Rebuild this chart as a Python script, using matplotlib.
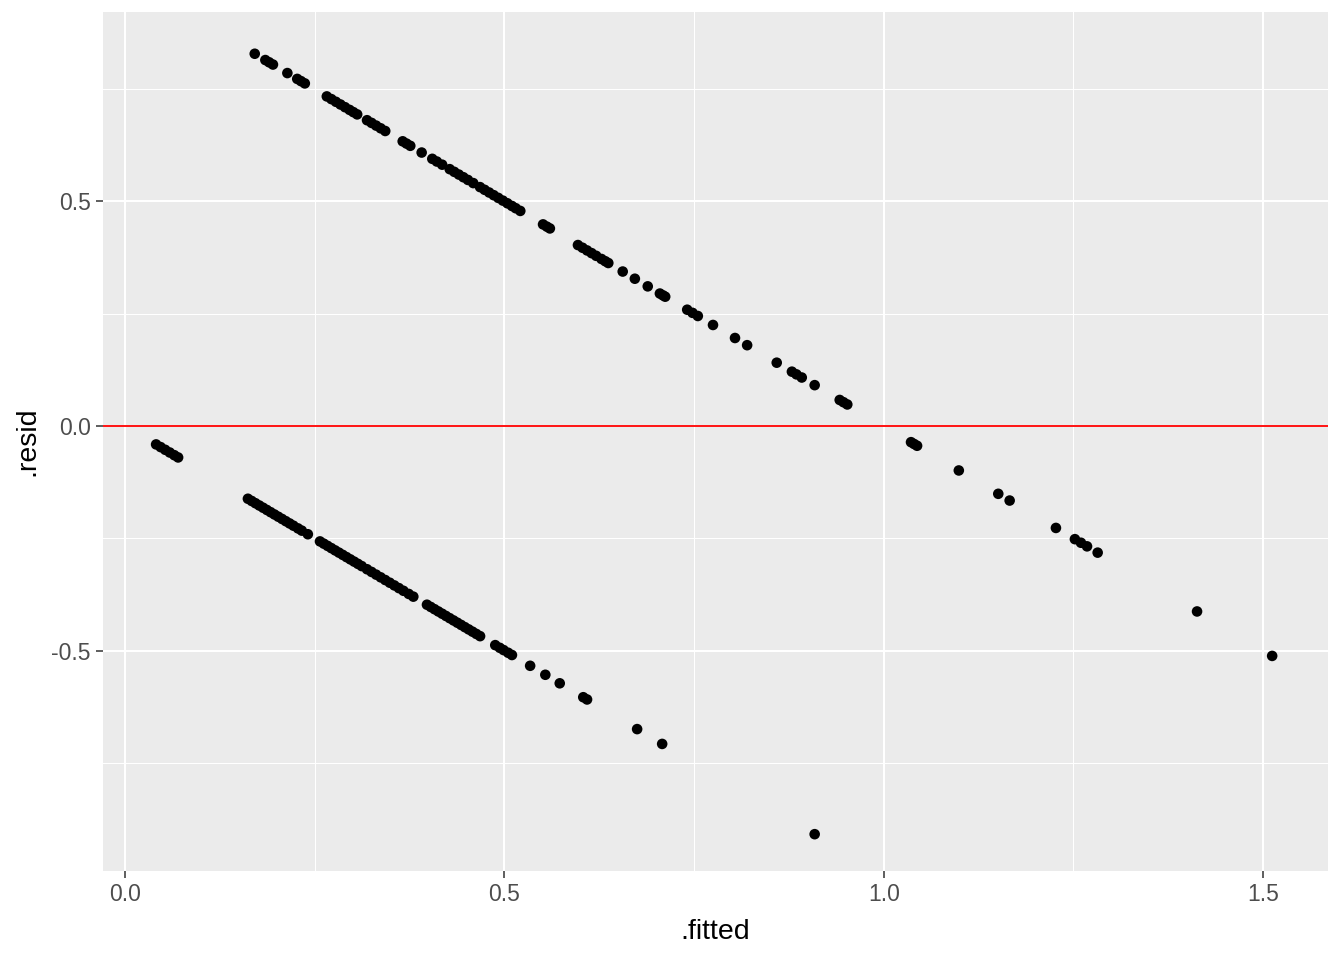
import matplotlib
matplotlib.use("Agg")
import matplotlib.pyplot as plt
from matplotlib.ticker import FixedLocator

plt.rcParams['font.family'] = ['Liberation Sans', 'DejaVu Sans']

# observations with outcome 1
fitted_one = [0.171, 0.185, 0.190, 0.195, 0.214, 0.227, 0.232, 0.237,
              0.266, 0.272, 0.278, 0.284, 0.290, 0.296, 0.301, 0.306,
              0.319, 0.325, 0.331, 0.337, 0.343,
              0.366, 0.371, 0.376, 0.391,
              0.405, 0.411, 0.418,
              0.428, 0.434, 0.440, 0.446, 0.452, 0.459,
              0.468, 0.474, 0.480, 0.486, 0.492, 0.498, 0.504, 0.510, 0.515, 0.521,
              0.551, 0.556, 0.560,
              0.597, 0.603, 0.609, 0.615, 0.621, 0.628, 0.633, 0.637,
              0.656, 0.672, 0.689, 0.705, 0.709, 0.712,
              0.741, 0.748, 0.755, 0.775, 0.804, 0.820, 0.859, 0.879, 0.885, 0.892,
              0.909, 0.942, 0.947, 0.952,
              1.036, 1.040, 1.044, 1.099, 1.151, 1.166, 1.227, 1.252, 1.260, 1.268,
              1.282, 1.413, 1.512]
resid_one = [0.829, 0.815, 0.810, 0.805, 0.786, 0.773, 0.768, 0.763,
             0.734, 0.728, 0.722, 0.716, 0.710, 0.704, 0.699, 0.694,
             0.681, 0.675, 0.669, 0.663, 0.657,
             0.634, 0.629, 0.624, 0.609,
             0.595, 0.589, 0.582,
             0.572, 0.566, 0.560, 0.554, 0.548, 0.541,
             0.532, 0.526, 0.520, 0.514, 0.508, 0.502, 0.496, 0.490, 0.485, 0.479,
             0.449, 0.444, 0.440,
             0.403, 0.397, 0.391, 0.385, 0.379, 0.372, 0.367, 0.363,
             0.344, 0.328, 0.311, 0.295, 0.291, 0.288,
             0.259, 0.252, 0.245, 0.225, 0.196, 0.180, 0.141, 0.121, 0.115, 0.108,
             0.091, 0.058, 0.053, 0.048,
             -0.036, -0.040, -0.044, -0.099, -0.151, -0.166, -0.227, -0.252, -0.260, -0.268,
             -0.282, -0.413, -0.512]

# observations with outcome 0
fitted_zero = [0.041, 0.047, 0.053, 0.059, 0.065, 0.070,
               0.162, 0.167, 0.172, 0.177, 0.182, 0.187, 0.192, 0.197, 0.202, 0.207,
               0.212, 0.217, 0.222, 0.228, 0.233, 0.241,
               0.257, 0.262, 0.267, 0.272, 0.277, 0.282, 0.287, 0.292, 0.297, 0.302,
               0.307, 0.312,
               0.319, 0.325, 0.331, 0.337, 0.343,
               0.349, 0.355, 0.361, 0.367, 0.374, 0.380,
               0.398, 0.403, 0.408, 0.413, 0.418, 0.423, 0.428, 0.433, 0.438, 0.443,
               0.448, 0.453, 0.458, 0.463, 0.468,
               0.488, 0.494, 0.499, 0.505, 0.510,
               0.534, 0.554, 0.573, 0.604, 0.609, 0.675, 0.708, 0.909]
resid_zero = [-0.041, -0.047, -0.053, -0.059, -0.065, -0.070,
              -0.162, -0.167, -0.172, -0.177, -0.182, -0.187, -0.192, -0.197, -0.202, -0.207,
              -0.212, -0.217, -0.222, -0.228, -0.233, -0.241,
              -0.257, -0.262, -0.267, -0.272, -0.277, -0.282, -0.287, -0.292, -0.297, -0.302,
              -0.307, -0.312,
              -0.319, -0.325, -0.331, -0.337, -0.343,
              -0.349, -0.355, -0.361, -0.367, -0.374, -0.380,
              -0.398, -0.403, -0.408, -0.413, -0.418, -0.423, -0.428, -0.433, -0.438, -0.443,
              -0.448, -0.453, -0.458, -0.463, -0.468,
              -0.488, -0.494, -0.499, -0.505, -0.510,
              -0.534, -0.554, -0.573, -0.604, -0.609, -0.675, -0.708, -0.909]

x_ticks = [0.0, 0.5, 1.0, 1.5]
x_tick_labels = ["0.0", "0.5", "1.0", "1.5"]
y_ticks = [-0.5, 0.0, 0.5]
y_tick_labels = ["-0.5", "0.0", "0.5"]

fig = plt.figure(figsize=(13.44, 9.6), dpi=100)
ax = fig.add_axes([103/1344, 1 - 871/960, (1328 - 103)/1344, (871 - 12)/960])
ax.set_facecolor("#EBEBEB")
for s in ax.spines.values():
    s.set_visible(False)

ax.set_xlim(-0.029, 1.5856)
ax.set_ylim(-0.991, 0.922)

ax.xaxis.set_major_locator(FixedLocator(x_ticks))
ax.yaxis.set_major_locator(FixedLocator(y_ticks))
ax.xaxis.set_minor_locator(FixedLocator([0.25, 0.75, 1.25]))
ax.yaxis.set_minor_locator(FixedLocator([-0.75, -0.25, 0.25, 0.75]))
ax.set_xticklabels(x_tick_labels)
ax.set_yticklabels(y_tick_labels)

ax.grid(which="major", color="white", linewidth=1.5)
ax.grid(which="minor", color="white", linewidth=0.75)
ax.set_axisbelow(True)

ax.tick_params(axis="both", which="major", length=5.3, width=1.1, color="#333333",
               labelcolor="#4D4D4D", labelsize=16.5, pad=3.5)
ax.tick_params(axis="both", which="minor", length=0)

ax.axhline(0, color="#FF0000", linewidth=1.3, zorder=2)

ax.scatter(fitted_one, resid_one, s=58, color="black", edgecolors="none", zorder=3)
ax.scatter(fitted_zero, resid_zero, s=58, color="black", edgecolors="none", zorder=3)

ax.set_xlabel(".fitted", fontsize=20.5, color="black", labelpad=9)
ax.set_ylabel(".resid", fontsize=20.5, color="black", labelpad=8)

fig.savefig("out.png", dpi=100, facecolor="white")
